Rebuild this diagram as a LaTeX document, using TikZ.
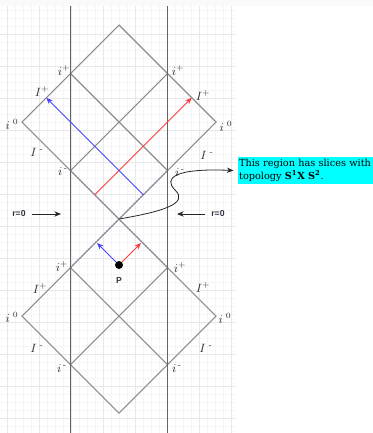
\documentclass[tikz,border=0pt]{standalone}
\usepackage{amsmath}
\usepackage{fontspec}
\usepackage{tikz}
\usetikzlibrary{arrows.meta,positioning,calc}
\newfontfamily\boxserif{DejaVu Serif}
\newfontfamily\tagsans{Liberation Sans}
\definecolor{edgeGray}{RGB}{140,140,140}
\definecolor{wallGray}{RGB}{100,100,100}
\definecolor{labelInk}{RGB}{50,50,65}
\definecolor{rayRed}{RGB}{255,60,60}
\definecolor{rayBlue}{RGB}{70,70,255}
\definecolor{nullPurple}{RGB}{175,125,240}
\definecolor{noteCyan}{RGB}{0,255,255}

\begin{document}
\begin{tikzpicture}[x=0.75pt, y=-0.75pt,
  gridfine/.style={draw=gray!8, line width=0.4pt},
  gridbold/.style={draw=gray!18, line width=0.5pt},
  edge/.style={draw=edgeGray, line width=0.8pt},
  wall/.style={draw=wallGray, line width=0.9pt},
  nulldash/.style={draw=nullPurple, line width=1pt, dash pattern=on 1.2pt off 1.2pt},
  ray/.style={draw=#1, line width=0.6pt, -{Stealth[length=5pt,width=4pt]}},
  lbl/.style={text=labelInk, inner sep=0pt, font=\fontsize{9}{10}\selectfont},
  tag/.style={text=labelInk, inner sep=1.5pt, font=\tagsans\bfseries\fontsize{6.5}{8}\selectfont},
  pointer/.style={draw=black!85, line width=0.6pt, -{Stealth[length=5pt,width=4pt]}},
  infobox/.style={fill=noteCyan, text=black, align=left, inner xsep=1pt, inner ysep=1.5pt,
    text width=99.5pt, font=\boxserif\fontsize{7.3}{9.8}\selectfont}]
  \useasboundingbox (0,0) rectangle (373,433);
  % background grid
  \fill[gray!4] (0,0) rectangle (373,6);
  \foreach \gx in {7,15,...,231} \draw[gridfine] (\gx,6) -- (\gx,433);
  \foreach \gy in {10,18,...,426} \draw[gridfine] (0,\gy) -- (236,\gy);
  \foreach \gx in {7,39,...,231} \draw[gridbold] (\gx,6) -- (\gx,433);
  \foreach \gy in {34,66,...,418} \draw[gridbold] (0,\gy) -- (236,\gy);
  % upper diamond
  \coordinate (T1) at (119,25);
  \coordinate (L1) at (22,122);
  \coordinate (R1) at (216,122);
  \coordinate (B1) at (119,219);
  \coordinate (a1) at (70.5,73.5);
  \coordinate (b1) at (167.5,73.5);
  \coordinate (c1) at (70.5,170.5);
  \coordinate (d1) at (167.5,170.5);
  % lower diamond
  \coordinate (L2) at (22,316);
  \coordinate (R2) at (216,316);
  \coordinate (B2) at (119,413);
  \coordinate (a2) at (70.5,267.5);
  \coordinate (b2) at (167.5,267.5);
  \coordinate (c2) at (70.5,364.5);
  \coordinate (d2) at (167.5,364.5);
  % r=0 walls
  \coordinate (wLt) at (70.5,6);
  \coordinate (wLb) at (70.5,433);
  \coordinate (wRt) at (167.5,6);
  \coordinate (wRb) at (167.5,433);

  \draw[nulldash, yshift=-1.1pt] (c1) -- (B1) -- (d1);
  \draw[nulldash, yshift=1.1pt] (a2) -- (B1) -- (b2);
  \draw[edge] (T1) -- (R1) -- (B1) -- (L1) -- cycle;
  \draw[edge] (a1) -- (d1) (b1) -- (c1);
  \draw[edge] (B1) -- (R2) -- (B2) -- (L2) -- cycle;
  \draw[edge] (a2) -- (d2) (b2) -- (c2);
  \draw[wall] (wLt) -- (wLb) (wRt) -- (wRb);

  % light rays
  \coordinate (redS) at ($(c1)!0.5!(B1)$);
  \coordinate (redE) at ($(T1)!0.75!(R1)$);
  \coordinate (blueS) at ($(B1)!0.5!(d1)$);
  \coordinate (blueE) at ($(T1)!0.75!(L1)$);
  \draw[ray=rayRed] (redS) -- (redE);
  \draw[ray=rayBlue] (blueS) -- (blueE);

  \node[circle, fill=black, inner sep=0pt, minimum size=6pt] (P) at (119,265) {};
  \node[tag] (Plab) at (119,281) {P};
  \coordinate (pb) at (97,243);
  \coordinate (pr) at (141,243);
  \draw[ray=rayBlue] (P) -- (pb);
  \draw[ray=rayRed] (P) -- (pr);

  % labels, upper diamond
  \node[lbl] (ipA) at (64,70) {$i^{+}$};
  \node[lbl] (ipB) at (178,70) {$i^{+}$};
  \node[lbl] (IpA) at (42,91) {$I^{+}$};
  \node[lbl] (IpB) at (203,95) {$I^{+}$};
  \node[lbl] (izA) at (12,124) {$i^{\;0}$};
  \node[lbl] (izB) at (226,126) {$i^{\;0}$};
  \node[lbl] (ImA) at (37,152) {$I^{\;\text{-}}$};
  \node[lbl] (ImB) at (207,155) {$I^{\;\text{-}}$};
  \node[lbl] (imA) at (63,172) {$i^{\,\text{-}}$};
  \node[lbl] (imB) at (180,173) {$i^{\,\text{-}}$};
  % labels, lower diamond
  \node[lbl] (ipC) at (62,266) {$i^{+}$};
  \node[lbl] (ipD) at (180,267) {$i^{+}$};
  \node[lbl] (IpC) at (40,288) {$I^{+}$};
  \node[lbl] (IpD) at (203,287) {$I^{+}$};
  \node[lbl] (izC) at (12,317) {$i^{\;0}$};
  \node[lbl] (izD) at (225,318) {$i^{\;0}$};
  \node[lbl] (ImC) at (37,348) {$I^{\;\text{-}}$};
  \node[lbl] (ImD) at (206,348) {$I^{\;\text{-}}$};
  \node[lbl] (imC) at (62,369) {$i^{\,\text{-}}$};
  \node[lbl] (imD) at (177,369) {$i^{\,\text{-}}$};

  % r=0 markers
  \node[tag] (rL) at (19,214) {r=0};
  \coordinate (rLend) at (61,214);
  \draw[pointer, shorten <=3pt] (rL) -- (rLend);
  \node[tag] (rR) at (218,214) {r=0};
  \coordinate (rRend) at (177,214);
  \draw[pointer, shorten <=3pt] (rR) -- (rRend);

  % note
  \node[infobox, anchor=west] (note) at (237.5,170.5)
    {This region has slices with\\topology \textbf{S\textsuperscript{1}X S\textsuperscript{2}}.};
  \draw[pointer] (B1) .. controls (160,212) and (190,204) .. (175,190)
    .. controls (163,178) and (175,168) .. ([xshift=-3pt]note.west);
\end{tikzpicture}
\end{document}
